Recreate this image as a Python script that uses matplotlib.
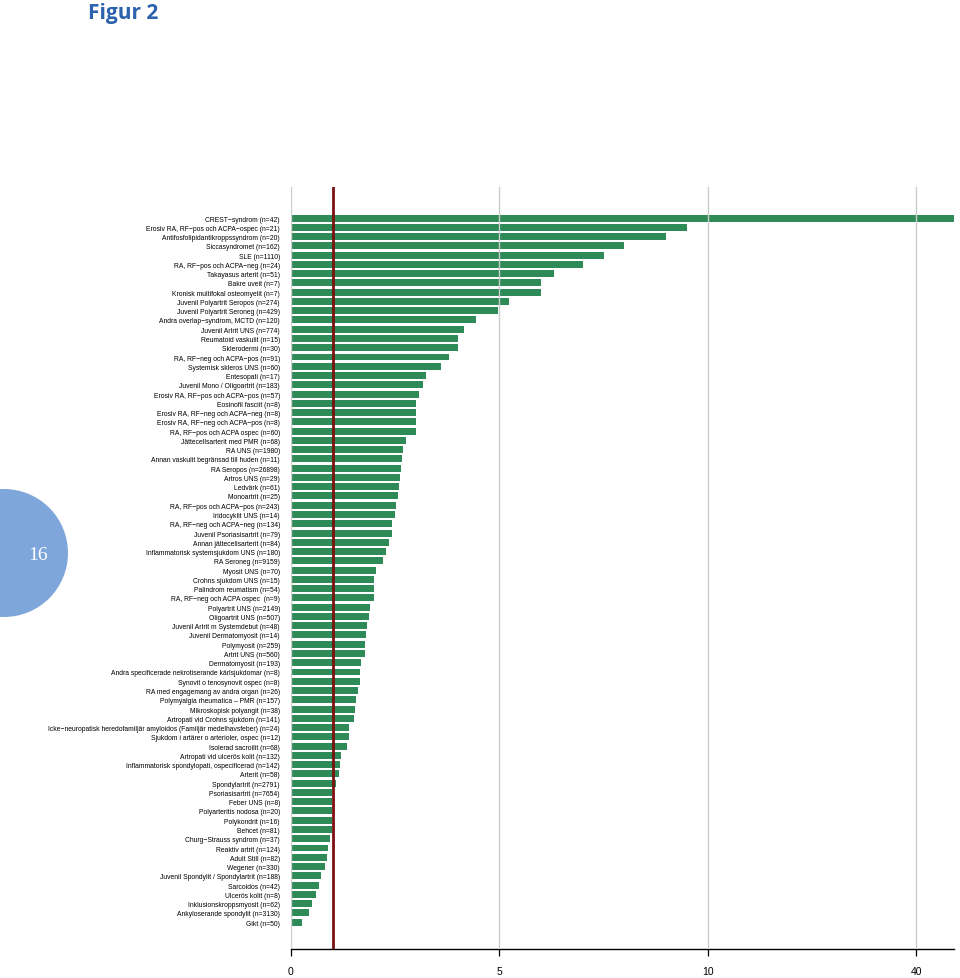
import numpy as np
import matplotlib
matplotlib.use("Agg")
import matplotlib.pyplot as plt
from matplotlib.patches import Ellipse

labels = [
    "CREST−syndrom (n=42)",
    "Erosiv RA, RF−pos och ACPA−ospec (n=21)",
    "Antifosfolipidantikroppssyndrom (n=20)",
    "Siccasyndromet (n=162)",
    "SLE (n=1110)",
    "RA, RF−pos och ACPA−neg (n=24)",
    "Takayasus arterit (n=51)",
    "Bakre uveit (n=7)",
    "Kronisk multifokal osteomyelit (n=7)",
    "Juvenil Polyartrit Seropos (n=274)",
    "Juvenil Polyartrit Seroneg (n=429)",
    "Andra overlap−syndrom, MCTD (n=120)",
    "Juvenil Artrit UNS (n=774)",
    "Reumatoid vaskulit (n=15)",
    "Sklerodermi (n=30)",
    "RA, RF−neg och ACPA−pos (n=91)",
    "Systemisk skleros UNS (n=60)",
    "Entesopati (n=17)",
    "Juvenil Mono / Oligoartrit (n=183)",
    "Erosiv RA, RF−pos och ACPA−pos (n=57)",
    "Eosinofil fasciit (n=8)",
    "Erosiv RA, RF−neg och ACPA−neg (n=8)",
    "Erosiv RA, RF−neg och ACPA−pos (n=8)",
    "RA, RF−pos och ACPA ospec (n=60)",
    "Jättecellsarterit med PMR (n=68)",
    "RA UNS (n=1980)",
    "Annan vaskulit begränsad till huden (n=11)",
    "RA Seropos (n=26898)",
    "Artros UNS (n=29)",
    "Ledvärk (n=61)",
    "Monoartrit (n=25)",
    "RA, RF−pos och ACPA−pos (n=243)",
    "Iridocyklit UNS (n=14)",
    "RA, RF−neg och ACPA−neg (n=134)",
    "Juvenil Psoriasisartrit (n=79)",
    "Annan jättecellsarterit (n=84)",
    "Inflammatorisk systemsjukdom UNS (n=180)",
    "RA Seroneg (n=9159)",
    "Myosit UNS (n=70)",
    "Crohns sjukdom UNS (n=15)",
    "Palindrom reumatism (n=54)",
    "RA, RF−neg och ACPA ospec  (n=9)",
    "Polyartrit UNS (n=2149)",
    "Oligoartrit UNS (n=507)",
    "Juvenil Artrit m Systemdebut (n=48)",
    "Juvenil Dermatomyosit (n=14)",
    "Polymyosit (n=259)",
    "Artrit UNS (n=560)",
    "Dermatomyosit (n=193)",
    "Andra specificerade nekrotiserande kärlsjukdomar (n=8)",
    "Synovit o tenosynovit ospec (n=8)",
    "RA med engagemang av andra organ (n=26)",
    "Polymyalgia rheumatica – PMR (n=157)",
    "Mikroskopisk polyangit (n=38)",
    "Artropati vid Crohns sjukdom (n=141)",
    "Icke−neuropatisk heredofamiljär amyloidos (Familjär medelhavsfeber) (n=24)",
    "Sjukdom i artärer o arterioler, ospec (n=12)",
    "Isolerad sacroilit (n=68)",
    "Artropati vid ulcerös kolit (n=132)",
    "Inflammatorisk spondylopati, ospecificerad (n=142)",
    "Arterit (n=58)",
    "Spondylartrit (n=2791)",
    "Psoriasisartrit (n=7654)",
    "Feber UNS (n=8)",
    "Polyarteritis nodosa (n=20)",
    "Polykondrit (n=16)",
    "Behcet (n=81)",
    "Churg−Strauss syndrom (n=37)",
    "Reaktiv artrit (n=124)",
    "Adult Still (n=82)",
    "Wegener (n=330)",
    "Juvenil Spondylit / Spondylartrit (n=188)",
    "Sarcoidos (n=42)",
    "Ulcerös kolit (n=8)",
    "Inklusionskroppsmyosit (n=62)",
    "Ankyloserande spondylit (n=3130)",
    "Gikt (n=50)",
]

values = [
    45.5, 9.5, 9.0, 8.0, 7.5, 7.0, 6.3, 6.0, 6.0, 5.24,
    4.96, 4.45, 4.16, 4.0, 4.0, 3.79, 3.61, 3.25, 3.16, 3.07,
    3.0, 3.0, 3.0, 3.0, 2.77, 2.69, 2.66, 2.64, 2.61, 2.58,
    2.57, 2.52, 2.49, 2.43, 2.43, 2.36, 2.27, 2.2, 2.04, 2.0,
    2.0, 2.0, 1.90, 1.88, 1.82, 1.80, 1.78, 1.77, 1.68, 1.66,
    1.66, 1.60, 1.57, 1.53, 1.51, 1.40, 1.40, 1.34, 1.20, 1.18,
    1.14, 1.09, 0.98, 0.98, 0.98, 0.98, 0.98, 0.94, 0.88, 0.86,
    0.82, 0.72, 0.67, 0.59, 0.50, 0.43, 0.27,
]

xticks = [0, 5, 10, 40]
ref_value = 1.0

plt.rcParams['font.family'] = ['Liberation Sans', 'DejaVu Sans']

fig = plt.figure(figsize=(9.6, 9.79), dpi=100)
ax = fig.add_axes([291/960, 1-950/979, 663/960, (950-188)/979])

BREAK = 10.0
FACT = 6.0
def fwd(x):
    x = np.asarray(x, dtype=float)
    return np.where(x <= BREAK, x, BREAK + (x - BREAK) / FACT)
def inv(y):
    y = np.asarray(y, dtype=float)
    return np.where(y <= BREAK, y, BREAK + (y - BREAK) * FACT)
ax.set_xscale('function', functions=(fwd, inv))

ypos = np.arange(len(values))
ax.barh(ypos, values, height=0.75, color='#2e8b57', zorder=2)

ax.set_xlim(0, float(inv(15.91)))
ax.set_ylim(len(values) - 1 + 2.9, -3.35)

for t in xticks:
    ax.axvline(t, color='#cccccc', lw=1.0, zorder=3)
ax.axvline(ref_value, color='#7a1010', lw=2.0, zorder=4)

ax.set_xticks(xticks)
ax.set_xticklabels([str(t) for t in xticks], fontsize=7.5)
ax.tick_params(axis='x', direction='out', length=5, width=0.9, pad=7, color='black')
ax.set_yticks(ypos)
ax.set_yticklabels(labels, fontsize=4.85)
ax.tick_params(axis='y', length=0, pad=8)
ax.xaxis.set_minor_locator(matplotlib.ticker.NullLocator())

for s in ['top', 'right', 'left']:
    ax.spines[s].set_visible(False)
ax.spines['bottom'].set_linewidth(1.0)

fig.text(88/960, 1-13/979, "Figur 2", fontsize=15, fontweight='bold',
         color='#2b61ad', family=['Open Sans', 'DejaVu Sans'], va='center', ha='left')

circ = Ellipse((4/960, 1-554/979), 128/960, 128/979, transform=fig.transFigure,
               facecolor='#7ea6db', edgecolor='none')
fig.add_artist(circ)
fig.text(38/960, 1-555/979, "16", fontsize=14, color='white',
         family=['Liberation Serif', 'DejaVu Serif'], ha='center', va='center')

fig.savefig("out.png", dpi=100)
